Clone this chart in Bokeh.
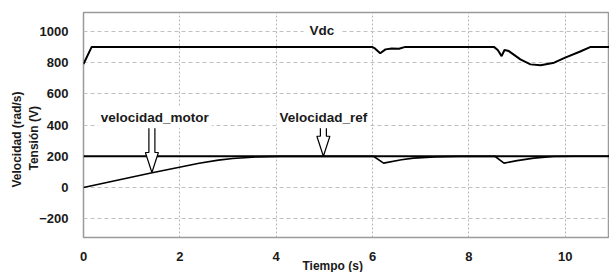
import math
from bokeh.plotting import figure
from bokeh.models import Label, FixedTicker, Range1d, Title
from bokeh.embed import file_html
from bokeh.resources import INLINE

# ---- data ----
x_ticks = [0, 2, 4, 6, 8, 10]
y_ticks = [-200, 0, 200, 400, 600, 800, 1000]

t_vdc = [0, 0.17, 5.99, 6.05, 6.16, 6.27, 6.4, 6.55, 6.68, 8.52, 8.6, 8.68, 8.74, 8.83,
         9.07, 9.28, 9.49, 9.77, 10.0, 10.3, 10.53, 11.0]
vdc = [790, 900, 900, 890, 859, 884, 890, 888, 900, 900, 880, 841, 880, 873,
       820, 788, 782, 799, 831, 869, 900, 900]

t_ref = [0, 11.0]
vel_ref = [200, 200]

t_motor = [0, 1.4, 2.4, 2.8, 3.1, 3.6, 4.1, 6.02, 6.23, 6.6, 6.85, 7.3, 7.8,
           8.54, 8.73, 9.0, 9.35, 9.76, 10.2, 11.0]
vel_motor = [0, 93, 155, 175, 186, 196, 199, 200, 156, 178, 188, 196, 199,
             200, 156, 172, 188, 198, 200, 200]

arrow_x = [1.42, 4.98]
arrow_top = [394, 394]
arrow_tip = [96, 200]

# ---- layout ----
W, H = 609, 272
BL, BR, BT, BB = 83, 0, 12, 35
x0, x1 = 0, 10.92
y0, y1 = -320, 1120

p = figure(width=W, height=H, output_backend="svg", toolbar_location=None,
           x_range=Range1d(x0, x1), y_range=Range1d(y0, y1),
           min_border_left=BL, min_border_right=BR, min_border_top=BT, min_border_bottom=BB)
p.background_fill_color = "white"
p.border_fill_color = "white"
p.outline_line_color = "#9a9a9a"
p.outline_line_width = 1.5

for ax in (p.xaxis, p.yaxis):
    ax.axis_line_color = None
    ax.major_tick_line_color = None
    ax.minor_tick_line_color = None
    ax.major_tick_out = 0
    ax.major_tick_in = 0
    ax.minor_tick_out = 0
    ax.minor_tick_in = 0
    ax.major_label_text_font = "Liberation Sans"
    ax.major_label_text_font_style = "bold"
    ax.major_label_text_font_size = "13px"
    ax.major_label_text_color = "#1a1a1a"
p.xaxis.ticker = FixedTicker(ticks=x_ticks)
p.yaxis.ticker = FixedTicker(ticks=y_ticks)
p.xaxis.major_label_standoff = 14
p.yaxis.major_label_standoff = 15

p.xgrid.ticker = FixedTicker(ticks=x_ticks)
p.ygrid.ticker = FixedTicker(ticks=y_ticks)
p.xgrid.grid_line_color = "#b5b5b5"
p.xgrid.grid_line_dash = "2 2"
p.ygrid.grid_line_color = "#c0c0c0"
p.ygrid.grid_line_dash = "4 3"

# lines
p.line(t_ref, vel_ref, line_color="black", line_width=2)
p.line(t_motor, vel_motor, line_color="black", line_width=1.6)
p.line(t_vdc, vdc, line_color="black", line_width=2)

# hollow arrows
fw = W - BL - BR
fh = H - BT - BB
sx = fw / (x1 - x0)
sy = fh / (y1 - y0)
hw_s, hw_h, hl = 3 / sx, 6.5 / sx, 20 / sy
xs_list, ys_list = [], []
for cx, yt, yp in zip(arrow_x, arrow_top, arrow_tip):
    xs_list.append([cx - hw_s, cx + hw_s, cx + hw_s, cx + hw_h, cx, cx - hw_h, cx - hw_s])
    ys_list.append([yt, yt, yp + hl, yp + hl, yp, yp + hl, yp + hl])
p.patches(xs_list, ys_list, fill_color="white", line_color="black", line_width=1.2)

def lab(x, y, text, pad):
    l = Label(x=x, y=y, text=text, text_font="Liberation Sans", text_font_style="bold",
              text_font_size="13.5px", text_align="center", text_baseline="middle",
              text_color="#1a1a1a", background_fill_color="white", padding=pad)
    p.add_layout(l)

lab(4.95, 1008, "Vdc", 6)
lab(1.48, 447, "velocidad_motor", 3)
lab(4.98, 447, "Velocidad_ref", 3)

def title(text, side, align, offset, standoff):
    t = Title(text=text, align=align, offset=offset, standoff=standoff,
              text_font="Liberation Sans", text_font_style="bold", text_font_size="12px",
              text_color="#1a1a1a")
    p.add_layout(t, side)

title("Tiempo (s)", "below", "left", 219, -14)
title("Tensión (V)", "left", "left", 67, -8)
title("Velocidad (rad/s)", "left", "left", 50, 10)

open("out.html", "w").write(file_html(p, INLINE))
